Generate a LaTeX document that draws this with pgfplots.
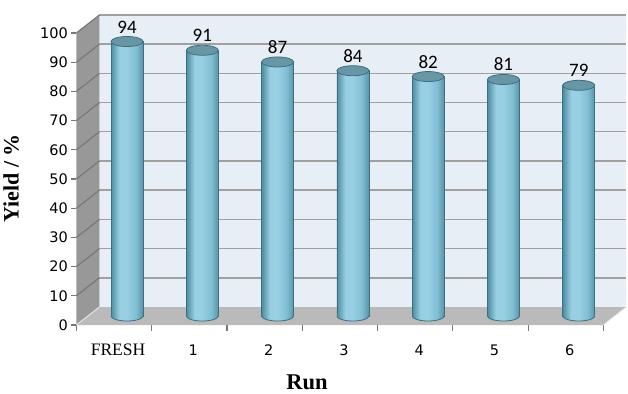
\documentclass[border=0pt]{standalone}
\usepackage{pgfplots}
\usepackage{pgfplotstable}
\pgfplotsset{compat=1.18}
\usepackage{fontspec}
\setmainfont{Liberation Serif}
\newfontfamily\tickfont{DejaVu Sans}
\newfontfamily\valfont{Carlito}

\definecolor{wallback}{RGB}{232,238,246}
\definecolor{gridc}{RGB}{160,160,160}
\definecolor{sidewall}{RGB}{152,152,152}
\definecolor{sidegrid}{RGB}{120,120,120}
\definecolor{floorc}{RGB}{186,186,186}
\definecolor{tickc}{RGB}{120,120,120}
\definecolor{cylA}{RGB}{78,140,160}
\definecolor{cylB}{RGB}{152,207,226}
\definecolor{cylC}{RGB}{128,190,211}
\definecolor{cylD}{RGB}{88,148,168}
\definecolor{cyltopc}{RGB}{104,150,164}
\definecolor{cyledge}{RGB}{58,112,130}

% left-to-right shading of the cylinder body
\pgfdeclarehorizontalshading{cylshade}{100bp}{color(0bp)=(cylA); color(25bp)=(cylA); color(38bp)=(cylB); color(50bp)=(cylB); color(64bp)=(cylC); color(75bp)=(cylD); color(100bp)=(cylD)}

% top face of a cylinder
\pgfdeclareplotmark{cyltop}{%
  \pgfpathellipse{\pgfpointorigin}{\pgfpoint{16pt}{0pt}}{\pgfpoint{0pt}{5pt}}%
  \pgfsetfillcolor{cyltopc}\pgfsetstrokecolor{cyledge}%
  \pgfusepath{fill,stroke}}
% rounded base of a cylinder
\pgfdeclareplotmark{cylbot}{%
  \pgfpathellipse{\pgfpointorigin}{\pgfpoint{16pt}{0pt}}{\pgfpoint{0pt}{5pt}}%
  \pgfshadepath{cylshade}{0}%
  \pgfusepath{discard}%
  \pgfpathmoveto{\pgfpoint{-16pt}{0pt}}%
  \pgfpatharc{180}{360}{16pt and 5pt}%
  \pgfsetstrokecolor{cyledge}\pgfusepath{stroke}}

\pgfplotstableread{
x y
0 94
1 91
2 87
3 84
4 82
5 81
6 79
}\yielddata

\begin{document}
\begin{tikzpicture}
% front plane: walls, floor, ticks and titles
\begin{axis}[
  scale only axis, width=527pt, height=292pt,
  xmin=-0.5, xmax=6.5, ymin=0, ymax=100,
  clip=false, axis on top,
  axis x line*=bottom, axis y line*=left,
  axis line style={draw=none},
  ytick={0,10,...,100},
  tick align=outside, major tick length=5pt,
  ytick style={draw=tickc, line width=1.2pt},
  xtick={0,...,6},
  xticklabels={{\rmfamily\fontsize{17.5}{18}\selectfont FRESH},1,2,3,4,5,6},
  xtick style={draw=none},
  /pgf/number format/assume math mode=true,
  ticklabel style={font=\tickfont\fontsize{14.5}{15}\selectfont, text=black},
  xticklabel style={anchor=center, yshift=-20pt, xshift=4pt},
]
  % back wall
  \fill[wallback] ([shift={(23pt,18pt)}]axis cs:-0.5,0) rectangle ([shift={(23pt,18pt)}]axis cs:6.5,100);
  % floor
  \fill[floorc] (axis cs:-0.5,0) -- (axis cs:6.5,0) -- ([shift={(23pt,18pt)}]axis cs:6.5,0) -- ([shift={(23pt,18pt)}]axis cs:-0.5,0) -- cycle;
  \draw[white!85!gray, line width=1pt] (axis cs:6.5,0) -- ([shift={(23pt,18pt)}]axis cs:6.5,0);
  % side wall
  \fill[sidewall] (axis cs:-0.5,0) -- ([shift={(23pt,18pt)}]axis cs:-0.5,0) -- ([shift={(23pt,18pt)}]axis cs:-0.5,100) -- (axis cs:-0.5,100) -- cycle;
  % grid lines on back and side walls
  \pgfplotsinvokeforeach{10,20,30,40,50,60,70,80,90,100}{
    \draw[gridc, line width=1.4pt] ([shift={(23pt,18pt)}]axis cs:-0.5,#1) -- ([shift={(23pt,18pt)}]axis cs:6.5,#1);
    \draw[sidegrid, line width=1.2pt] (axis cs:-0.5,#1) -- ([shift={(23pt,18pt)}]axis cs:-0.5,#1);
  }
  \draw[white!80!gray, line width=1pt] (axis cs:-0.5,0) -- ([shift={(23pt,18pt)}]axis cs:-0.5,0);
  % category separators on the front floor edge
  \pgfplotsinvokeforeach{-0.5,0.5,1.5,2.5,3.5,4.5,5.5,6.5}{
    \draw[tickc, line width=1.2pt] (axis cs:#1,0) -- ([yshift=-6pt]axis cs:#1,0);
  }
  \node[font=\bfseries\fontsize{22.5}{23}\selectfont, anchor=center] at (axis description cs:0.4376,-0.196) {Run};
  \node[font=\bfseries\fontsize{22}{23}\selectfont, anchor=center, rotate=90] at (axis description cs:-0.124,0.502) {Yield / \%};
\end{axis}
% cylinders, set halfway into the depth of the box
\begin{axis}[
  at={(13pt,9pt)}, anchor=south west,
  scale only axis, width=527pt, height=292pt,
  xmin=-0.5, xmax=6.5, ymin=0, ymax=100,
  clip=false, hide axis,
  /pgf/number format/assume math mode=true,
]
  % one plot per cylinder so that each body gets its own shading
  \pgfplotsinvokeforeach{0,1,2,3,4,5,6}{
    \addplot[ybar, bar width=32pt, bar shift=0pt, draw=cyledge, line width=0.8pt, shade, shading=cylshade,
      restrict x to domain=#1:#1]
      table[x=x, y=y] {\yielddata};
  }
  \addplot[only marks, mark=cylbot, line width=0.8pt]
    table[x=x, y expr=0] {\yielddata};
  \addplot[only marks, mark=cyltop, line width=0.8pt,
    nodes near coords,
    every node near coord/.append style={font=\valfont\fontsize{19}{19}\selectfont, text=black, inner sep=0pt, anchor=south, yshift=8pt}]
    table[x=x, y=y] {\yielddata};
\end{axis}
\pgfresetboundingbox
\path (-76.4pt,-68pt) rectangle (551.6pt,325pt);
\end{tikzpicture}
\end{document}
